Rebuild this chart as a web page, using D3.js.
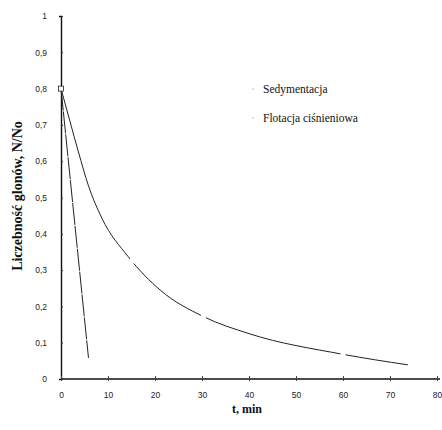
<!DOCTYPE html>
<html>
<head>
<meta charset="utf-8">
<script src="https://cdn.jsdelivr.net/npm/d3@7"></script>
<style>
  body { margin: 0; background: #fff; }
  .tick text { font-family: "Liberation Sans", sans-serif; font-size: 8.5px; fill: #222; }
</style>
</head>
<body>
<div id="chart"></div>
<script>
const sedT = [0, 1.9, 3.7, 5.8, 8.7, 14.3, 21.1, 30.3, 40, 60, 73.8];
const sedV = [0.8, 0.71, 0.626, 0.534, 0.443, 0.337, 0.245, 0.172, 0.125, 0.068, 0.039];
const flotT = [0, 5.85];
const flotV = [0.8, 0.058];
const gapT = [15.2, 30.3, 60];   // white markers on the curve in the scan
const gapV = [0.325, 0.172, 0.068];
const xTicks = [0, 10, 20, 30, 40, 50, 60, 70, 80];
const yTicks = [0, 0.1, 0.2, 0.3, 0.4, 0.5, 0.6, 0.7, 0.8, 0.9, 1];
const legendNames = ["Sedymentacja", "Flotacja ciśnieniowa"];

const width = 442, height = 430;
const svg = d3.select("#chart").append("svg")
  .attr("width", width).attr("height", height);

const x = d3.scaleLinear().domain([0, 80]).range([61, 437]);
const y = d3.scaleLinear().domain([0, 1]).range([379, 16]);

const fmt = d => d === 0 ? "0" : d === 1 ? "1" : d3.format(".1f")(d).replace(".", ",");

// y axis
const gy = svg.append("g").attr("transform", "translate(61,0)")
  .call(d3.axisLeft(y).tickValues(yTicks).tickFormat(fmt).tickSize(2).tickPadding(12));
gy.select(".domain").attr("stroke", "#111").attr("stroke-width", 1.4);
gy.selectAll(".tick line").attr("stroke", "#333").attr("x2", 2);

// x axis
const gx = svg.append("g").attr("transform", "translate(0,379)")
  .call(d3.axisBottom(x).tickValues(xTicks).tickSize(3).tickPadding(10));
gx.select(".domain").attr("stroke", "#111").attr("stroke-width", 1.4)
  .attr("d", `M${x(0)},0H${x(80) + 3}`);
gx.selectAll(".tick line").attr("stroke", "#444").attr("y1", -3).attr("y2", 2);

// curves
const line = d3.line().x(d => x(d[0])).y(d => y(d[1]));
svg.append("path")
  .datum(d3.zip(sedT, sedV))
  .attr("d", line.curve(d3.curveMonotoneX))
  .attr("fill", "none").attr("stroke", "#222").attr("stroke-width", 1);

svg.append("path")
  .datum(d3.zip(flotT, flotV))
  .attr("d", line.curve(d3.curveLinear))
  .attr("fill", "none").attr("stroke", "#222").attr("stroke-width", 1)
  .attr("stroke-dasharray", "22,1");

svg.selectAll(".gap").data(d3.zip(gapT, gapV)).join("rect")
  .attr("class", "gap")
  .attr("x", d => x(d[0]) - 2.5).attr("y", d => y(d[1]) - 2.5)
  .attr("width", 5).attr("height", 5).attr("fill", "#fff");

// start marker
svg.append("rect")
  .attr("x", x(0) - 2.5).attr("y", y(0.8) - 2.5)
  .attr("width", 5).attr("height", 5)
  .attr("fill", "#fff").attr("stroke", "#222").attr("stroke-width", 0.8);

// legend
const lg = svg.append("g").selectAll("g").data(legendNames).join("g")
  .attr("transform", (d, i) => `translate(253,${91 + i * 29})`);
lg.append("circle").attr("r", 0.6).attr("cy", -2).attr("fill", "#666");
lg.append("text").attr("x", 10).attr("y", 2)
  .attr("font-family", "Liberation Serif, serif").attr("font-size", 11.5)
  .attr("fill", "#111").text(d => d);

// axis titles
svg.append("text")
  .attr("x", 247).attr("y", 413).attr("text-anchor", "middle")
  .attr("font-family", "Liberation Serif, serif").attr("font-weight", "bold")
  .attr("font-size", 12).attr("fill", "#111").text("t, min");

svg.append("text")
  .attr("transform", "translate(22,196) rotate(-90)").attr("text-anchor", "middle")
  .attr("font-family", "Liberation Serif, serif").attr("font-weight", "bold")
  .attr("font-size", 14).attr("fill", "#111").text("Liczebność glonów, N/No");
</script>
</body>
</html>
